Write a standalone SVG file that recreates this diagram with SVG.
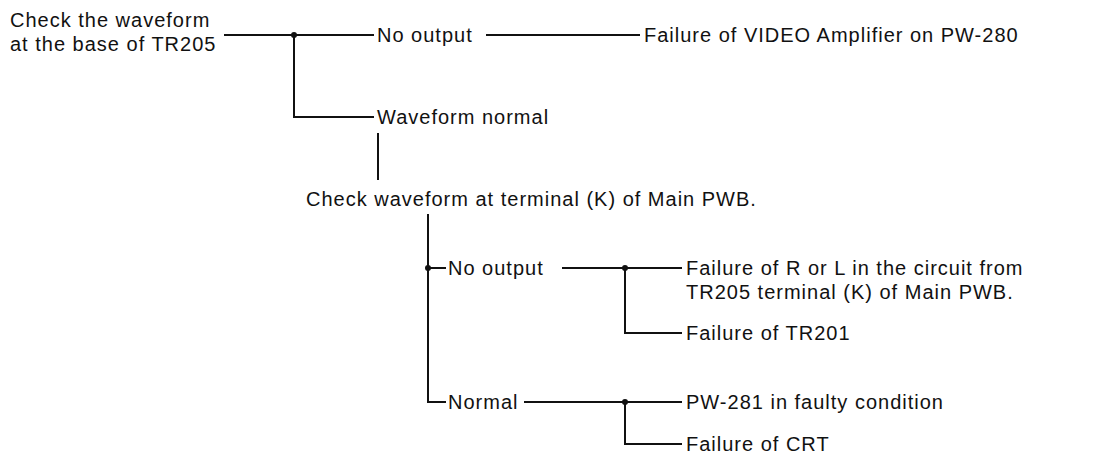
<svg xmlns="http://www.w3.org/2000/svg" width="1100" height="456" viewBox="0 0 1100 456">
<style>
text{font-family:"Liberation Sans",Arial,sans-serif;font-size:20px;fill:#111;letter-spacing:1px}
.c line{stroke:#111;stroke-width:2;fill:none}
.c circle{fill:#111}
</style>
<rect width="1100" height="456" fill="#fff"/>
<g class="c" id="connectors">
<line x1="224" y1="35" x2="374" y2="35"/>
<line x1="294" y1="35" x2="294" y2="117"/>
<line x1="293" y1="117" x2="374" y2="117"/>
<circle cx="294" cy="35" r="3"/>
<line x1="486" y1="35" x2="640" y2="35"/>
<line x1="378" y1="133" x2="378" y2="180"/>
<line x1="428" y1="214" x2="428" y2="402"/>
<line x1="428" y1="268" x2="446" y2="268"/>
<circle cx="428" cy="268" r="3"/>
<line x1="427" y1="402" x2="446" y2="402"/>
<line x1="562" y1="268" x2="682" y2="268"/>
<line x1="625" y1="268" x2="625" y2="333"/>
<line x1="624" y1="333" x2="682" y2="333"/>
<circle cx="625" cy="268" r="3"/>
<line x1="524" y1="402" x2="682" y2="402"/>
<line x1="625" y1="402" x2="625" y2="444"/>
<line x1="624" y1="444" x2="682" y2="444"/>
<circle cx="625" cy="402" r="3"/>
</g>
<g id="n-check-base"><text x="10" y="27">Check the waveform</text><text x="10" y="51">at the base of TR205</text></g>
<g id="n-no-output-1"><text x="377" y="42">No output</text></g>
<g id="n-failure-video"><text x="644" y="42">Failure of VIDEO Amplifier on PW-280</text></g>
<g id="n-waveform-normal"><text x="377" y="124">Waveform normal</text></g>
<g id="n-check-k"><text x="306" y="206">Check waveform at terminal (K) of Main PWB.</text></g>
<g id="n-no-output-2"><text x="448" y="275">No output</text></g>
<g id="n-failure-rl"><text x="686" y="275">Failure of R or L in the circuit from</text><text x="686" y="299">TR205 terminal (K) of Main PWB.</text></g>
<g id="n-failure-tr201"><text x="686" y="340">Failure of TR201</text></g>
<g id="n-normal"><text x="448" y="409">Normal</text></g>
<g id="n-pw281"><text x="686" y="409">PW-281 in faulty condition</text></g>
<g id="n-failure-crt"><text x="686" y="451">Failure of CRT</text></g>
</svg>
